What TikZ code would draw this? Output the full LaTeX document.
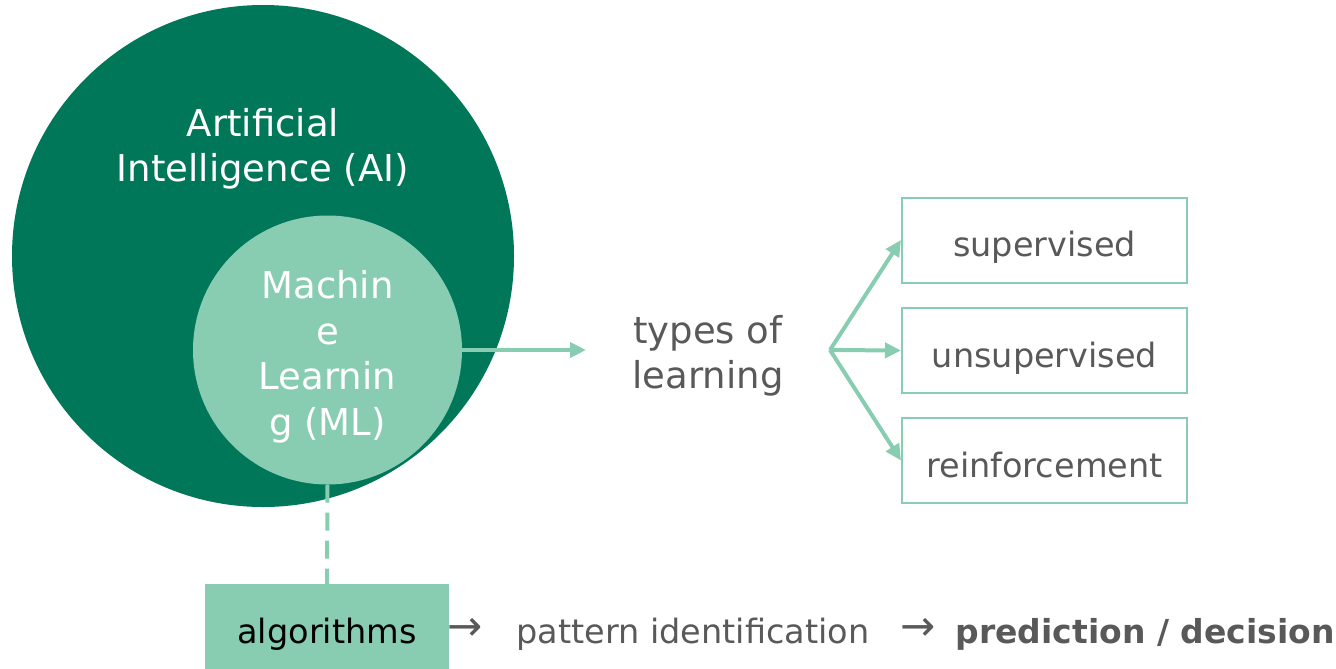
\documentclass[tikz,border=0pt]{standalone}
\usepackage{fontspec}
\setmainfont{DejaVu Sans}
\usetikzlibrary{arrows.meta}
\definecolor{dkgreen}{RGB}{0,119,89}
\definecolor{ltgreen}{RGB}{136,205,177}
\definecolor{txtgray}{RGB}{89,89,89}
\tikzset{
  garrow/.style={draw=ltgreen,line width=4pt,-{Triangle[length=16pt,width=15pt]}},
  typebox/.style={draw=ltgreen,line width=2pt,minimum width=285pt,minimum height=85pt,inner sep=0pt,
    text height=35pt,text depth=2pt,
    text=txtgray,font=\fontsize{33.5}{40}\selectfont},
  bigtxt/.style={font=\fontsize{37}{45.5}\selectfont,align=center,inner sep=0pt},
  flowtxt/.style={font=\fontsize{33.5}{40}\selectfont,text=txtgray,inner sep=0pt},
  arrtxt/.style={font=\fontsize{42}{44}\selectfont,text=txtgray,inner sep=0pt}
}
\begin{document}
\begin{tikzpicture}[x=1pt,y=-1pt]
\useasboundingbox (0,0) rectangle (1336,669);
\node[circle,fill=dkgreen,minimum size=502pt,inner sep=0pt] (ai) at (263,256) {};
\node[bigtxt,text=white] (aitxt) at (263,149) {Artificial\\Intelligence (AI)};
\node[circle,fill=ltgreen,minimum size=269pt,inner sep=0pt] (ml) at (327.5,350) {};
\node[bigtxt,text=white] (mltxt) at (327.5,357) {Machin\\e\\Learnin\\g (ML)};
\node[bigtxt,text=txtgray] (types) at (708,356) {types of\\learning};
\coordinate (fork) at (830,350);
\node[typebox] (sup) at (1044.5,240) {supervised};
\node[typebox] (uns) at (1044.5,350.5) {unsupervised};
\node[typebox] (rei) at (1044.5,460.5) {reinforcement};
\coordinate (mlend) at (586,350);
\draw[garrow] (ml.east) -- (mlend);
\draw[garrow] (fork) -- (sup.west);
\draw[garrow] (fork) -- (uns.west);
\draw[garrow] (fork) -- (rei.west);
\node[fill=ltgreen,minimum width=244pt,minimum height=85pt,inner sep=0pt,
  text height=35pt,text depth=2pt,
  font=\fontsize{33.5}{40}\selectfont,text=black] (alg) at (327,626.5) {algorithms};
\draw[draw=ltgreen,line width=4pt,dash pattern=on 18pt off 10pt] (ml.south) -- (alg.north);
\node[arrtxt,anchor=west] (a1) at (447,629) {→};
\node[flowtxt] (pat) at (693,634) {pattern identification};
\node[arrtxt,anchor=west] (a2) at (900,629) {→};
\node[flowtxt,font=\fontsize{33}{40}\selectfont\bfseries] (pred) at (1145,634) {prediction / decision};
\end{tikzpicture}
\end{document}
